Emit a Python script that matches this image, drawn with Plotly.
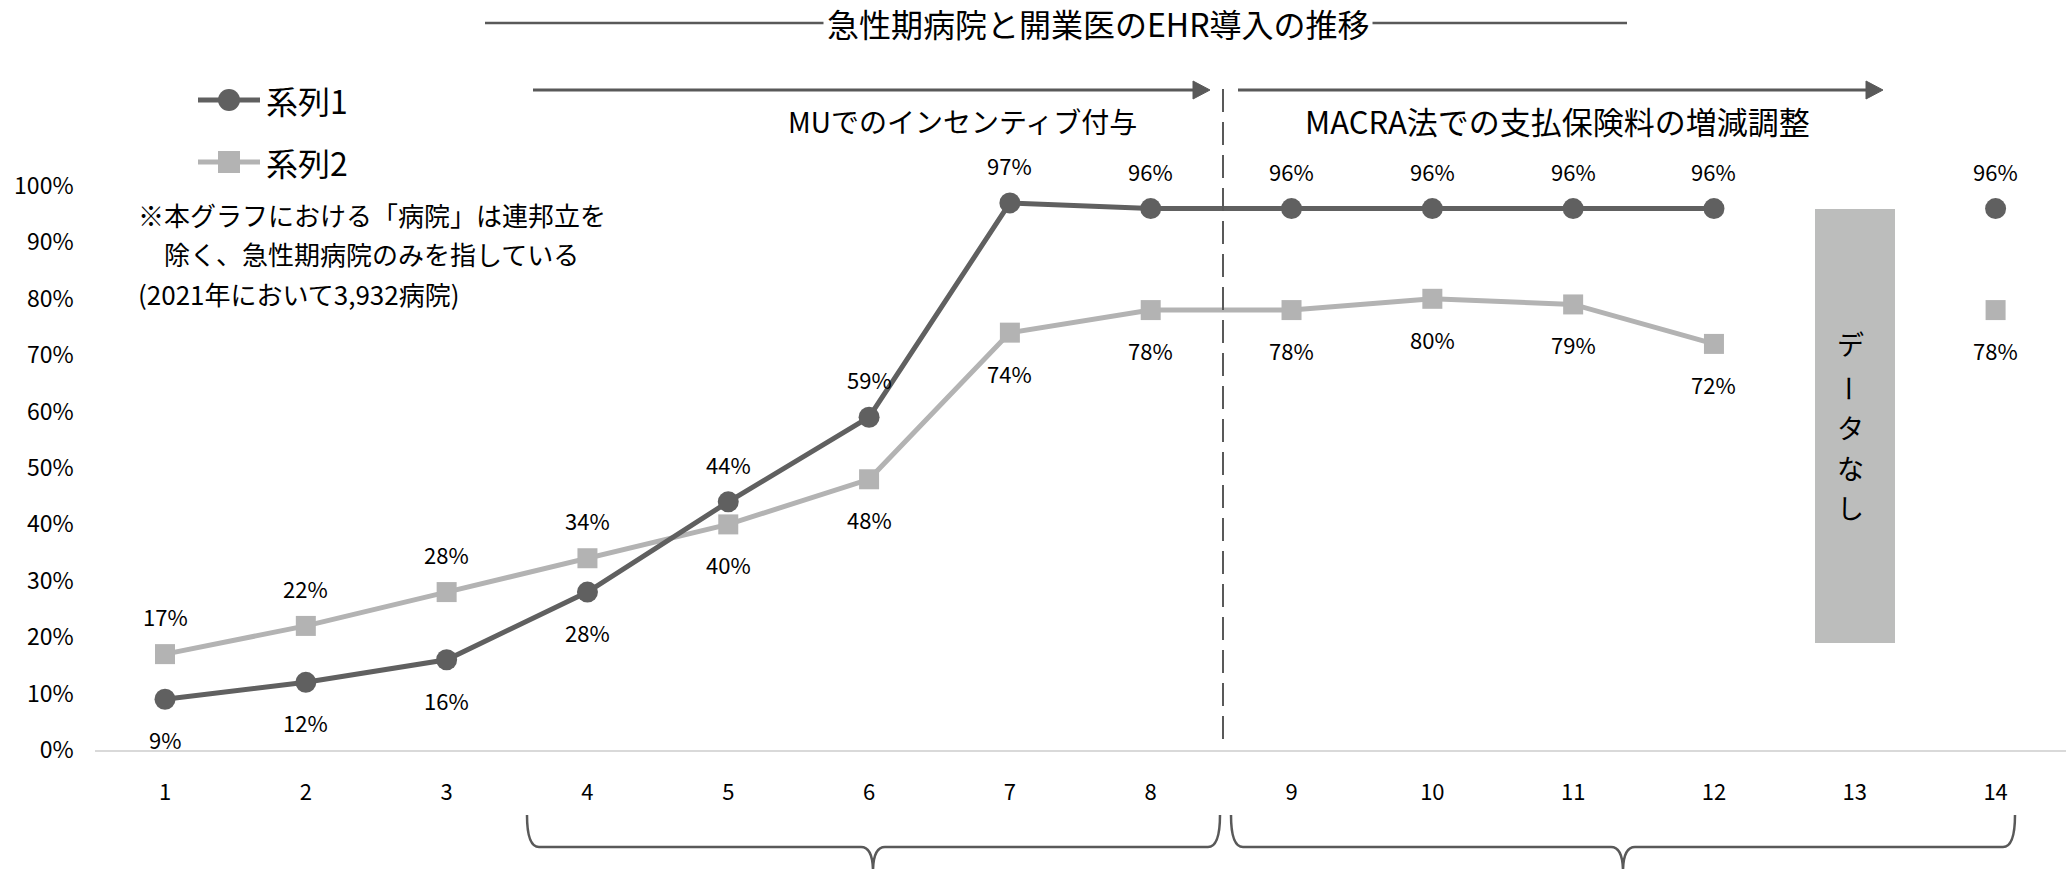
import plotly.graph_objects as go

W, H = 2071, 869
FONT = "Noto Sans CJK JP"

# ---------------- data ----------------
categories = list(range(1, 15))
series1_name = "系列1"
series2_name = "系列2"
series1 = [0.09, 0.12, 0.16, 0.28, 0.44, 0.59, 0.97, 0.96, 0.96, 0.96, 0.96, 0.96, None, 0.96]
series2 = [0.17, 0.22, 0.28, 0.34, 0.40, 0.48, 0.74, 0.78, 0.78, 0.80, 0.79, 0.72, None, 0.78]
label_side1 = ["below"] * 4 + ["above"] * 10
label_side2 = ["above"] * 4 + ["below"] * 10
nodata_category = [13]
nodata_low = [0.19]
nodata_high = [0.96]
nodata_text = ["デ", "ー", "タ", "な", "し"]
y_ticks = [0, 0.1, 0.2, 0.3, 0.4, 0.5, 0.6, 0.7, 0.8, 0.9, 1.0]
title_text = "急性期病院と開業医のEHR導入の推移"
phase1_text = "MUでのインセンティブ付与"
phase2_text = "MACRA法での支払保険料の増減調整"
note_lines = ["※本グラフにおける「病院」は連邦立を",
              "　除く、急性期病院のみを指している",
              "(2021年において3,932病院)"]

C1 = "#606060"
C2 = "#b3b3b3"
CBAR = "#bcbdbc"
CLINE = "#595959"


def px(x):
    return x / W


def py(y):
    return 1 - y / H


fig = go.Figure()

fig.add_trace(go.Bar(
    x=nodata_category, y=[h - l for h, l in zip(nodata_high, nodata_low)], base=nodata_low,
    width=0.57, marker=dict(color=CBAR, line=dict(width=0)), showlegend=False, hoverinfo="skip"))

fig.add_trace(go.Scatter(
    x=categories, y=series2, name=series2_name, mode="lines+markers",
    line=dict(color=C2, width=5), marker=dict(symbol="square", size=20, color=C2),
    connectgaps=False, cliponaxis=False, showlegend=False))
fig.add_trace(go.Scatter(
    x=categories, y=series1, name=series1_name, mode="lines+markers",
    line=dict(color=C1, width=5), marker=dict(symbol="circle", size=21, color=C1),
    connectgaps=False, cliponaxis=False, showlegend=False))

annotations = []
for xs, ys, sides in [(categories, series1, label_side1), (categories, series2, label_side2)]:
    for x, v, s in zip(xs, ys, sides):
        if v is None:
            continue
        annotations.append(dict(
            x=x, y=v, xref="x", yref="y", text=f"{round(v * 100)}%", showarrow=False,
            xanchor="center", yanchor="middle",
            yshift=38 if s == "above" else -40,
            font=dict(family=FONT, size=22, color="#000000")))


def txt(x, y, text, size, xanchor="center", angle=0, bg=None):
    d = dict(x=px(x), y=py(y), xref="paper", yref="paper", text=text, showarrow=False,
             xanchor=xanchor, yanchor="middle", textangle=angle,
             font=dict(family=FONT, size=size, color="#000000"))
    if bg:
        d["bgcolor"] = bg
        d["borderpad"] = 3
    return d


# "データなし" vertical text
nd_y = [343, 388, 427, 467, 507]
for ch, yy in zip(nodata_text, nd_y):
    annotations.append(txt(1850, yy, ch, 27, angle=90 if ch == "ー" else 0))

# title and phase labels
annotations.append(txt(1098, 23, title_text, 32, bg="#ffffff"))
annotations.append(txt(962, 121, phase1_text, 28))
annotations.append(txt(1557, 121, phase2_text, 31))
# legend texts
annotations.append(txt(264, 100, series1_name, 32, xanchor="left"))
annotations.append(txt(264, 162, series2_name, 32, xanchor="left"))
# note
for line, (xx, yy), sz in zip(note_lines, [(136, 214), (136, 254), (136, 293)], [26, 26, 26]):
    annotations.append(txt(xx, yy, line, sz, xanchor="left"))

shapes = []
# title rule
shapes.append(dict(type="line", xref="paper", yref="paper", x0=px(485), x1=px(1627),
                   y0=py(23), y1=py(23), line=dict(color=CLINE, width=2.5), layer="below"))
# arrows
for xa, xb in [(533, 1193), (1238, 1866)]:
    shapes.append(dict(type="line", xref="paper", yref="paper", x0=px(xa), x1=px(xb + 2),
                       y0=py(90), y1=py(90), line=dict(color=CLINE, width=3)))
    tip = xb + 17
    shapes.append(dict(type="path", xref="paper", yref="paper",
                       path=f"M {px(xb)},{py(81)} L {px(tip)},{py(90)} L {px(xb)},{py(99)} Z",
                       fillcolor=CLINE, line=dict(color=CLINE, width=1)))
# dashed separator
shapes.append(dict(type="line", xref="paper", yref="paper", x0=px(1223), x1=px(1223),
                   y0=py(89), y1=py(742), line=dict(color=CLINE, width=2, dash="23px,10px")))


# braces
def brace(xl, xm, xr, ytop=815, ybot=847, ytip=872, r=12):
    p = (f"M {px(xl)},{py(ytop)} Q {px(xl)},{py(ybot)} {px(xl + r)},{py(ybot)} "
         f"L {px(xm - r)},{py(ybot)} Q {px(xm)},{py(ybot)} {px(xm)},{py(ytip)} "
         f"Q {px(xm)},{py(ybot)} {px(xm + r)},{py(ybot)} "
         f"L {px(xr - r)},{py(ybot)} Q {px(xr)},{py(ybot)} {px(xr)},{py(ytop)}")
    return dict(type="path", xref="paper", yref="paper", path=p,
                line=dict(color=CLINE, width=2.5))


shapes.append(brace(527, 873, 1220))
shapes.append(brace(1231, 1623, 2015))
# legend symbols
for yy, sym, col in [(100, "circle", C1), (162, "rect", C2)]:
    shapes.append(dict(type="line", xref="paper", yref="paper", x0=px(198), x1=px(260),
                       y0=py(yy), y1=py(yy), line=dict(color=col, width=5)))
    shapes.append(dict(type=sym, xref="paper", yref="paper",
                       x0=px(229 - 11), x1=px(229 + 11), y0=py(yy + 11), y1=py(yy - 11),
                       fillcolor=col, line=dict(color=col, width=0)))

fig.update_layout(
    width=W, height=H, autosize=False,
    margin=dict(l=0, r=0, t=0, b=0, pad=0),
    paper_bgcolor="#ffffff", plot_bgcolor="#ffffff",
    showlegend=False, bargap=0,
    annotations=annotations, shapes=shapes,
    xaxis=dict(domain=[px(94.6), px(2066)], range=[0.5, 14.5], tickmode="array",
               tickvals=categories, ticktext=[str(c) for c in categories],
               showgrid=False, zeroline=False, showline=True, linecolor="#d9d9d9", linewidth=2,
               ticks="", ticklabelstandoff=22, automargin=False,
               tickfont=dict(family=FONT, size=22, color="#000000")),
    yaxis=dict(domain=[py(750), py(186)], range=[0, 1], tickmode="array", tickvals=y_ticks,
               ticktext=[f"{round(t * 100)}%" for t in y_ticks],
               showgrid=False, zeroline=False, showline=False, ticks="",
               ticklabelstandoff=20, automargin=False,
               tickfont=dict(family=FONT, size=23, color="#000000")),
)

fig.write_html("out.html")
